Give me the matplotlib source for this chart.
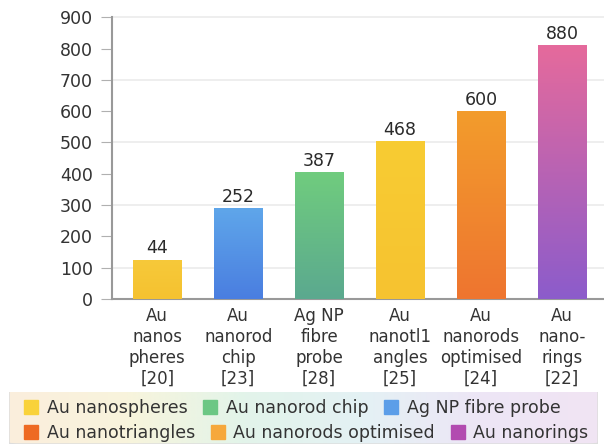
import numpy as np
import matplotlib.pyplot as plt
from matplotlib.colors import LinearSegmentedColormap
from matplotlib.patches import Patch, FancyBboxPatch

# data
categories = ["Au\nnanos\npheres\n[20]", "Au\nnanorod\nchip\n[23]", "Ag NP\nfibre\nprobe\n[28]",
              "Au\nnanotl1\nangles\n[25]", "Au\nnanorods\noptimised\n[24]", "Au\nnano-\nrings\n[22]"]
bar_heights = [125, 290, 405, 503, 600, 811]
bar_labels = ["44", "252", "387", "468", "600", "880"]
top_colors = ["#f7c93a", "#5fa6ea", "#70cc7e", "#f8cc33", "#f39c2c", "#e56a9c"]
bottom_colors = ["#f5c230", "#4a7ee0", "#5ba98f", "#f6c330", "#ee7530", "#8c5ccb"]

legend_row1 = ["Au nanospheres", "Au nanorod chip", "Ag NP fibre probe"]
legend_row1_colors = ["#f9d23a", "#6cc784", "#5c9ee8"]
legend_row2 = ["Au nanotriangles", "Au nanorods optimised", "Au nanorings"]
legend_row2_colors = ["#ee6a23", "#f6a83c", "#b24bb0"]

plt.rcParams["font.family"] = "DejaVu Sans"
fig = plt.figure(figsize=(6.04, 4.44), dpi=100)
ax = fig.add_axes([0.186, 0.327, 0.814, 0.634])

x = np.arange(len(categories))
bars = ax.bar(x, bar_heights, width=0.6, color="none", zorder=3)
for b, c1, c2, lab in zip(bars, top_colors, bottom_colors, bar_labels):
    cmap = LinearSegmentedColormap.from_list("g", [c2, c1])
    grad = np.linspace(0, 1, 100).reshape(-1, 1)
    x0, w, h = b.get_x(), b.get_width(), b.get_height()
    im = ax.imshow(grad, cmap=cmap, aspect="auto", origin="lower",
                   extent=[x0, x0 + w, 0, h], zorder=3)
    im.set_clip_path(b)
    ax.text(x0 + w / 2, h + 8, lab, ha="center", va="bottom", fontsize=12.5, color="#2a2a2a")

ax.set_xlim(-0.555, 5.52)
ax.set_ylim(0, 900)
ax.set_yticks(range(0, 901, 100))
for gy in [100, 300, 500, 700, 900]:
    ax.axhline(gy, color="#ebebeb", linewidth=1.2, zorder=0, clip_on=False)
ax.tick_params(axis="y", which="major", length=8, color="#b0b0b0", labelsize=12.5, labelcolor="#333333", pad=6)
ax.set_xticks(x)
ax.set_xticklabels(categories, fontsize=12, color="#333333", linespacing=1.2)
ax.tick_params(axis="x", length=0, pad=6)
for s in ["top", "right"]:
    ax.spines[s].set_visible(False)
ax.spines["left"].set_color("#999999")
ax.spines["bottom"].set_color("#999999")
ax.spines["left"].set_linewidth(1.5)
ax.spines["bottom"].set_linewidth(1.5)

# legend area with pastel gradient
lax = fig.add_axes([0.015, 0.0, 0.975, 0.118])
lax.set_axis_off()
bgc = LinearSegmentedColormap.from_list("bg", ["#fbeedd", "#f8f4dc", "#e2f4ea", "#e4f1f4", "#ede6f6", "#f1e4f3"])
lax.imshow(np.linspace(0, 1, 256).reshape(1, -1), cmap=bgc, aspect="auto", extent=[0, 1, 0, 1])
lax.set_xlim(0, 1)
lax.set_ylim(0, 1)
lax.add_patch(FancyBboxPatch((0, 0), 1, 1.2, boxstyle="round,pad=0,rounding_size=0.02",
                             fill=False, edgecolor="#dddddd", linewidth=1, transform=lax.transAxes))

h1 = [Patch(color=c) for c in legend_row1_colors]
h2 = [Patch(color=c) for c in legend_row2_colors]
kw = dict(ncol=3, frameon=False, fontsize=12.5, handlelength=0.8, handleheight=0.8,
          handletextpad=0.5, columnspacing=0.9, labelcolor="#333333", borderpad=0)
leg1 = fig.legend(h1, legend_row1, loc="center left", bbox_to_anchor=(0.026, 0.081), **kw)
leg2 = fig.legend(h2, legend_row2, loc="center left", bbox_to_anchor=(0.026, 0.025), **kw)

fig.savefig("out.png", dpi=100, facecolor="white")
